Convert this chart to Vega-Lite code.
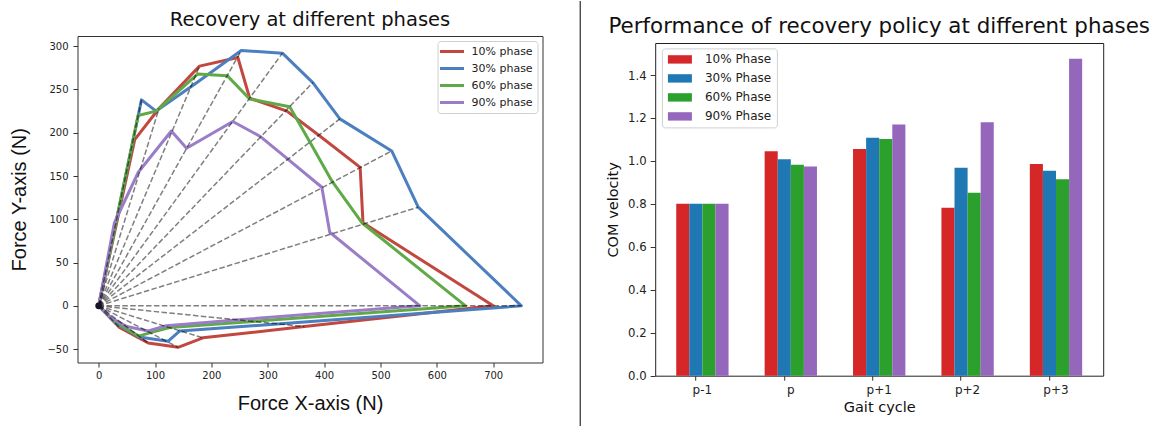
{
  "$schema": "https://vega.github.io/schema/vega-lite/v6.json",
  "background": "white",
  "padding": {"left": 8.5, "top": 0, "right": 4, "bottom": 0},
  "bounds": "flush",
  "spacing": 112.7,
  "resolve": {"scale": {"color": "independent"}, "legend": {"color": "independent"}},
  "config": {
    "font": "DejaVu Sans",
    "view": {"stroke": null},
    "axis": {"grid": false, "domain": false, "tickColor": "#333", "labelColor": "#222", "titleColor": "#111", "labelFont": "DejaVu Sans", "titleFont": "DejaVu Sans", "titleFontWeight": "normal"},
    "title": {"font": "DejaVu Sans", "fontWeight": "normal", "color": "#111"},
    "legend": {"labelFont": "DejaVu Sans", "labelColor": "#222"}
  },
  "datasets": {
    "curves": [
      {"phase": "10% phase", "i": 0, "x": 0, "y": 0},
      {"phase": "10% phase", "i": 1, "x": 64, "y": 192},
      {"phase": "10% phase", "i": 2, "x": 107, "y": 228},
      {"phase": "10% phase", "i": 3, "x": 179, "y": 277},
      {"phase": "10% phase", "i": 4, "x": 247, "y": 287},
      {"phase": "10% phase", "i": 5, "x": 268, "y": 240},
      {"phase": "10% phase", "i": 6, "x": 334, "y": 225},
      {"phase": "10% phase", "i": 7, "x": 393, "y": 196},
      {"phase": "10% phase", "i": 8, "x": 464, "y": 160},
      {"phase": "10% phase", "i": 9, "x": 469, "y": 96},
      {"phase": "10% phase", "i": 10, "x": 700, "y": 0},
      {"phase": "10% phase", "i": 11, "x": 365, "y": -24},
      {"phase": "10% phase", "i": 12, "x": 185, "y": -37},
      {"phase": "10% phase", "i": 13, "x": 141, "y": -48},
      {"phase": "10% phase", "i": 14, "x": 88, "y": -43},
      {"phase": "10% phase", "i": 15, "x": 37, "y": -25},
      {"phase": "10% phase", "i": 16, "x": 0, "y": 0},
      {"phase": "30% phase", "i": 0, "x": 0, "y": 0},
      {"phase": "30% phase", "i": 1, "x": 76, "y": 238},
      {"phase": "30% phase", "i": 2, "x": 102, "y": 225},
      {"phase": "30% phase", "i": 3, "x": 172, "y": 257},
      {"phase": "30% phase", "i": 4, "x": 253, "y": 295},
      {"phase": "30% phase", "i": 5, "x": 326, "y": 292},
      {"phase": "30% phase", "i": 6, "x": 380, "y": 258},
      {"phase": "30% phase", "i": 7, "x": 428, "y": 216},
      {"phase": "30% phase", "i": 8, "x": 520, "y": 179},
      {"phase": "30% phase", "i": 9, "x": 567, "y": 114},
      {"phase": "30% phase", "i": 10, "x": 750, "y": 0},
      {"phase": "30% phase", "i": 11, "x": 317, "y": -21},
      {"phase": "30% phase", "i": 12, "x": 144, "y": -29},
      {"phase": "30% phase", "i": 13, "x": 123, "y": -41},
      {"phase": "30% phase", "i": 14, "x": 72, "y": -36},
      {"phase": "30% phase", "i": 15, "x": 30, "y": -20},
      {"phase": "30% phase", "i": 16, "x": 0, "y": 0},
      {"phase": "60% phase", "i": 0, "x": 0, "y": 0},
      {"phase": "60% phase", "i": 1, "x": 70, "y": 220},
      {"phase": "60% phase", "i": 2, "x": 102, "y": 225},
      {"phase": "60% phase", "i": 3, "x": 176, "y": 268},
      {"phase": "60% phase", "i": 4, "x": 228, "y": 266},
      {"phase": "60% phase", "i": 5, "x": 268, "y": 239},
      {"phase": "60% phase", "i": 6, "x": 339, "y": 230},
      {"phase": "60% phase", "i": 7, "x": 376, "y": 188},
      {"phase": "60% phase", "i": 8, "x": 414, "y": 144},
      {"phase": "60% phase", "i": 9, "x": 467, "y": 96},
      {"phase": "60% phase", "i": 10, "x": 651, "y": 0},
      {"phase": "60% phase", "i": 11, "x": 274, "y": -18},
      {"phase": "60% phase", "i": 12, "x": 126, "y": -25},
      {"phase": "60% phase", "i": 13, "x": 92, "y": -31},
      {"phase": "60% phase", "i": 14, "x": 71, "y": -35},
      {"phase": "60% phase", "i": 15, "x": 28, "y": -18},
      {"phase": "60% phase", "i": 16, "x": 0, "y": 0},
      {"phase": "90% phase", "i": 0, "x": 0, "y": 0},
      {"phase": "90% phase", "i": 1, "x": 28, "y": 96},
      {"phase": "90% phase", "i": 2, "x": 70, "y": 154},
      {"phase": "90% phase", "i": 3, "x": 129, "y": 202},
      {"phase": "90% phase", "i": 4, "x": 156, "y": 182},
      {"phase": "90% phase", "i": 5, "x": 238, "y": 213},
      {"phase": "90% phase", "i": 6, "x": 286, "y": 196},
      {"phase": "90% phase", "i": 7, "x": 333, "y": 171},
      {"phase": "90% phase", "i": 8, "x": 396, "y": 137},
      {"phase": "90% phase", "i": 9, "x": 410, "y": 85},
      {"phase": "90% phase", "i": 10, "x": 570, "y": 0},
      {"phase": "90% phase", "i": 11, "x": 250, "y": -16},
      {"phase": "90% phase", "i": 12, "x": 120, "y": -23},
      {"phase": "90% phase", "i": 13, "x": 88, "y": -29},
      {"phase": "90% phase", "i": 14, "x": 50, "y": -24},
      {"phase": "90% phase", "i": 15, "x": 22, "y": -14},
      {"phase": "90% phase", "i": 16, "x": 0, "y": 0}
    ],
    "rays": [
      {"ray": 1, "i": 0, "x": 0, "y": 0}, {"ray": 1, "i": 1, "x": 76, "y": 238},
      {"ray": 2, "i": 0, "x": 0, "y": 0}, {"ray": 2, "i": 1, "x": 107, "y": 228},
      {"ray": 3, "i": 0, "x": 0, "y": 0}, {"ray": 3, "i": 1, "x": 179, "y": 277},
      {"ray": 4, "i": 0, "x": 0, "y": 0}, {"ray": 4, "i": 1, "x": 253, "y": 295},
      {"ray": 5, "i": 0, "x": 0, "y": 0}, {"ray": 5, "i": 1, "x": 326, "y": 292},
      {"ray": 6, "i": 0, "x": 0, "y": 0}, {"ray": 6, "i": 1, "x": 380, "y": 258},
      {"ray": 7, "i": 0, "x": 0, "y": 0}, {"ray": 7, "i": 1, "x": 428, "y": 216},
      {"ray": 8, "i": 0, "x": 0, "y": 0}, {"ray": 8, "i": 1, "x": 520, "y": 179},
      {"ray": 9, "i": 0, "x": 0, "y": 0}, {"ray": 9, "i": 1, "x": 567, "y": 114},
      {"ray": 10, "i": 0, "x": 0, "y": 0}, {"ray": 10, "i": 1, "x": 750, "y": 0},
      {"ray": 11, "i": 0, "x": 0, "y": 0}, {"ray": 11, "i": 1, "x": 365, "y": -24},
      {"ray": 12, "i": 0, "x": 0, "y": 0}, {"ray": 12, "i": 1, "x": 185, "y": -37},
      {"ray": 13, "i": 0, "x": 0, "y": 0}, {"ray": 13, "i": 1, "x": 141, "y": -48},
      {"ray": 14, "i": 0, "x": 0, "y": 0}, {"ray": 14, "i": 1, "x": 88, "y": -43},
      {"ray": 15, "i": 0, "x": 0, "y": 0}, {"ray": 15, "i": 1, "x": 37, "y": -25}
    ],
    "bars": [
      {"cycle": "p-1", "phase": "10% Phase", "v": 0.8},
      {"cycle": "p-1", "phase": "30% Phase", "v": 0.8},
      {"cycle": "p-1", "phase": "60% Phase", "v": 0.8},
      {"cycle": "p-1", "phase": "90% Phase", "v": 0.8},
      {"cycle": "p", "phase": "10% Phase", "v": 1.045},
      {"cycle": "p", "phase": "30% Phase", "v": 1.008},
      {"cycle": "p", "phase": "60% Phase", "v": 0.982},
      {"cycle": "p", "phase": "90% Phase", "v": 0.974},
      {"cycle": "p+1", "phase": "10% Phase", "v": 1.056},
      {"cycle": "p+1", "phase": "30% Phase", "v": 1.108},
      {"cycle": "p+1", "phase": "60% Phase", "v": 1.102},
      {"cycle": "p+1", "phase": "90% Phase", "v": 1.17},
      {"cycle": "p+2", "phase": "10% Phase", "v": 0.782},
      {"cycle": "p+2", "phase": "30% Phase", "v": 0.968},
      {"cycle": "p+2", "phase": "60% Phase", "v": 0.852},
      {"cycle": "p+2", "phase": "90% Phase", "v": 1.18},
      {"cycle": "p+3", "phase": "10% Phase", "v": 0.986},
      {"cycle": "p+3", "phase": "30% Phase", "v": 0.954},
      {"cycle": "p+3", "phase": "60% Phase", "v": 0.915},
      {"cycle": "p+3", "phase": "90% Phase", "v": 1.476}
    ]
  },
  "hconcat": [
    {
      "width": 465,
      "height": 326.5,
      "view": {"stroke": "#333", "strokeWidth": 1},
      "title": {"text": "Recovery at different phases", "fontSize": 19.5, "offset": 6},
      "layer": [
        {
          "data": {"name": "curves"},
          "mark": {"type": "line", "strokeWidth": 3, "strokeJoin": "round"},
          "encoding": {
            "x": {"field": "x", "type": "quantitative", "scale": {"domain": [-37.5, 787.5], "nice": false, "zero": false},
              "axis": {"values": [0, 100, 200, 300, 400, 500, 600, 700], "title": "Force X-axis (N)", "titleFont": "Liberation Sans", "titleFontSize": 20, "titlePadding": 13, "labelFontSize": 10, "tickSize": 4.5, "labelPadding": 3}},
            "y": {"field": "y", "type": "quantitative", "scale": {"domain": [-65.5, 311.8], "nice": false, "zero": false},
              "axis": {"values": [-50, 0, 50, 100, 150, 200, 250, 300], "title": "Force Y-axis (N)", "titleFont": "Liberation Sans", "titleFontSize": 20, "titlePadding": 17, "labelFontSize": 10, "tickSize": 4.5, "labelPadding": 5}},
            "color": {"field": "phase", "type": "nominal",
              "scale": {"domain": ["10% phase", "30% phase", "60% phase", "90% phase"], "range": ["#c1473f", "#4b7fbf", "#5fa947", "#9a7cc7"]},
              "legend": {"title": null, "orient": "top-right", "offset": 5, "symbolType": "M-2.4,0H2.4", "symbolSize": 100, "symbolStrokeWidth": 3, "symbolOffset": 4, "labelOffset": 13, "labelFontSize": 11, "rowPadding": 4, "padding": 4, "strokeColor": "#d0d0d0", "fillColor": "white", "cornerRadius": 3}},
            "order": {"field": "i", "type": "quantitative"}
          }
        },
        {
          "data": {"name": "rays"},
          "mark": {"type": "line", "color": "black", "opacity": 0.5, "strokeWidth": 1.5, "strokeDash": [5.5, 2.4]},
          "encoding": {
            "x": {"field": "x", "type": "quantitative"},
            "y": {"field": "y", "type": "quantitative"},
            "detail": {"field": "ray", "type": "nominal"},
            "order": {"field": "i", "type": "quantitative"}
          }
        },
        {
          "data": {"values": [{"x": 0, "y": 0}]},
          "mark": {"type": "point", "filled": true, "color": "#151525", "size": 45, "opacity": 1},
          "encoding": {
            "x": {"field": "x", "type": "quantitative"},
            "y": {"field": "y", "type": "quantitative"}
          }
        }
      ]
    },
    {
      "vconcat": [
        {
          "width": 1,
          "height": 7,
          "data": {"values": [{"sx": -75, "top": 6, "bottom": -54.857}]},
          "mark": {"type": "rule", "clip": false, "color": "black", "strokeWidth": 1},
          "encoding": {
            "x": {"field": "sx", "type": "quantitative", "scale": {"domain": [0, 1], "nice": false, "zero": false}, "axis": null},
            "y": {"field": "top", "type": "quantitative", "scale": {"domain": [0, 1], "nice": false, "zero": false}, "axis": null},
            "y2": {"field": "bottom"}
          }
        },
        {
          "width": 448,
          "height": 332.7,
          "view": {"stroke": "#222", "strokeWidth": 1},
          "title": {"text": "Performance of recovery policy at different phases", "fontSize": 21.4, "offset": 6},
          "data": {"name": "bars"},
          "mark": {"type": "bar"},
          "encoding": {
            "x": {"field": "cycle", "type": "nominal", "sort": ["p-1", "p", "p+1", "p+2", "p+3"],
              "scale": {"paddingInner": 0.408, "paddingOuter": 0.238},
              "axis": {"title": "Gait cycle", "titleFontSize": 14.5, "titlePadding": 5, "labelAngle": 0, "labelFontSize": 12, "tickSize": 4.5, "labelPadding": 4, "bandPosition": 0.375}},
            "xOffset": {"field": "phase", "type": "nominal", "sort": ["10% Phase", "30% Phase", "60% Phase", "90% Phase"], "scale": {"paddingInner": 0, "paddingOuter": 0}},
            "y": {"field": "v", "type": "quantitative", "scale": {"domain": [0, 1.549], "nice": false},
              "axis": {"values": [0, 0.2, 0.4, 0.6, 0.8, 1.0, 1.2, 1.4], "format": ".1f", "title": "COM velocity", "titleFontSize": 14.5, "titlePadding": 7, "labelFontSize": 11.7, "tickSize": 5, "labelPadding": 4}},
            "color": {"field": "phase", "type": "nominal",
              "scale": {"domain": ["10% Phase", "30% Phase", "60% Phase", "90% Phase"], "range": ["#d62728", "#1f77b4", "#2ca02c", "#9467bd"]},
              "legend": {"title": null, "orient": "none", "legendX": 6.7, "legendY": 12.4, "symbolType": "M-2.4,-0.84H2.4V0.84H-2.4Z", "symbolSize": 100, "symbolStrokeWidth": 0, "symbolOffset": 7, "labelOffset": 19, "labelFontSize": 12, "rowPadding": 7, "padding": 5, "strokeColor": "#d0d0d0", "fillColor": "white", "cornerRadius": 3}}
          }
        }
      ],
      "spacing": 0,
      "bounds": "flush"
    }
  ]
}
